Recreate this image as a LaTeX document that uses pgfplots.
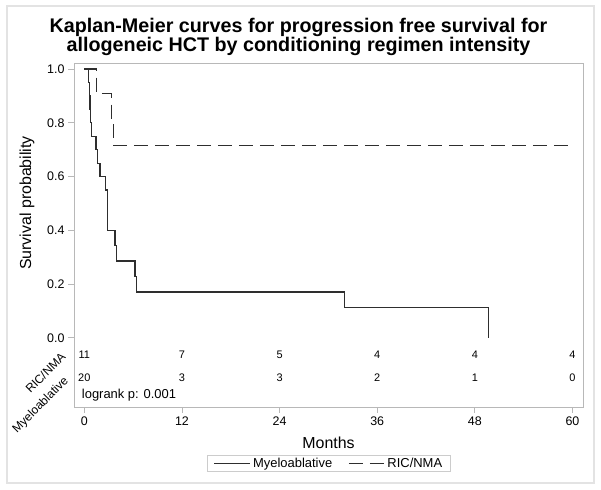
\documentclass[border=0pt]{standalone}
\usepackage{pgfplots}
\pgfplotsset{compat=1.18}
\usepackage{fontspec}
\setmainfont{Liberation Sans}
\definecolor{axgray}{gray}{0.72}
\definecolor{linecol}{gray}{0.18}
\begin{document}
\begin{tikzpicture}
\useasboundingbox (0bp,0bp) rectangle (601bp,490bp);
\draw[color=gray!22, line width=1.5bp] (7bp,7bp) rectangle (594bp,484bp);
\node[anchor=base, font=\fontsize{19.8}{21}\selectfont\bfseries] at (298.5bp,457.7bp) {Kaplan-Meier curves for progression free survival for};
\node[anchor=base, font=\fontsize{19.8}{21}\selectfont\bfseries] at (298.5bp,438.3bp) {allogeneic HCT by conditioning regimen intensity};
\begin{axis}[
  at={(74bp,83bp)}, anchor=south west, scale only axis,
  width=509bp, height=344bp,
  xmin=-1.27, xmax=61.3, ymin=-0.257, ymax=1.0223,
  axis line style={axgray, line width=0.8bp},
  tick style={axgray, line width=0.8bp},
  tick align=outside, major tick length=6bp,
  tick pos=left,
  xtick={0,12,24,36,48,60},
  ytick={0,0.2,0.4,0.6,0.8,1},
  yticklabel style={/pgf/number format/.cd, fixed, fixed zerofill, precision=1},
  /pgf/number format/assume math mode=true,
  ticklabel style={font=\fontsize{12.5}{14}\selectfont, text=black},
  clip=false,
  legend columns=2,
  legend image code/.code={\draw[#1] (0bp,0bp) -- (36bp,0bp);},
  legend style={at={(0.501,-0.164)}, anchor=center, draw=gray!40, line width=0.8bp,
    font=\fontsize{13}{15}\selectfont, inner ysep=1bp, inner xsep=6bp,
    /tikz/every even column/.append style={column sep=14bp}},
]
\addplot[const plot, color=linecol, line width=1.2bp] coordinates {
(0,1) (0.55,0.95) (0.62,0.90) (0.70,0.85) (0.80,0.80) (0.91,0.75)
(1.44,0.70) (1.65,0.65) (1.93,0.60) (2.63,0.55) (2.83,0.50) (2.85,0.45)
(2.87,0.40) (3.77,0.343) (3.98,0.286) (6.23,0.229) (6.44,0.171)
(32.0,0.114) (49.7,0.0)
};
\addlegendentry{Myeloablative}
\addplot[const plot, color=linecol, line width=1.2bp, dash pattern=on 14bp off 7bp] coordinates {
(0,1) (1.52,0.909) (3.36,0.808) (3.56,0.716) (60,0.716)
};
\addlegendentry{RIC/NMA}
% number at risk
\foreach \xx/\vv in {0/11,12/7,24/5,36/4,48/4,60/4} {
  \edef\temp{\noexpand\node[anchor=base, font=\noexpand\fontsize{11}{13}\noexpand\selectfont] at (axis cs:\xx,-0.078) {\vv};}
  \temp
}
\foreach \xx/\vv in {0/20,12/3,24/3,36/2,48/1,60/0} {
  \edef\temp{\noexpand\node[anchor=base, font=\noexpand\fontsize{11}{13}\noexpand\selectfont] at (axis cs:\xx,-0.162) {\vv};}
  \temp
}
\node[anchor=base west, font=\fontsize{13}{15}\selectfont, inner sep=0pt] at (axis cs:-0.32,-0.227) {logrank p: 0.001};
\node[rotate=45, anchor=base east, font=\fontsize{12}{14}\selectfont, inner sep=0bp] at (axis cs:-2.2,-0.075) {RIC/NMA};
\node[rotate=45, anchor=base east, font=\fontsize{12}{14}\selectfont, inner sep=0bp] at (axis cs:-1.9,-0.162) {Myeloablative};
\end{axis}
\node[rotate=90, font=\fontsize{16}{18}\selectfont] at (27bp,287bp) {Survival probability};
\node[anchor=base, font=\fontsize{16}{18}\selectfont] at (328.5bp,41bp) {Months};
\end{tikzpicture}
\end{document}
